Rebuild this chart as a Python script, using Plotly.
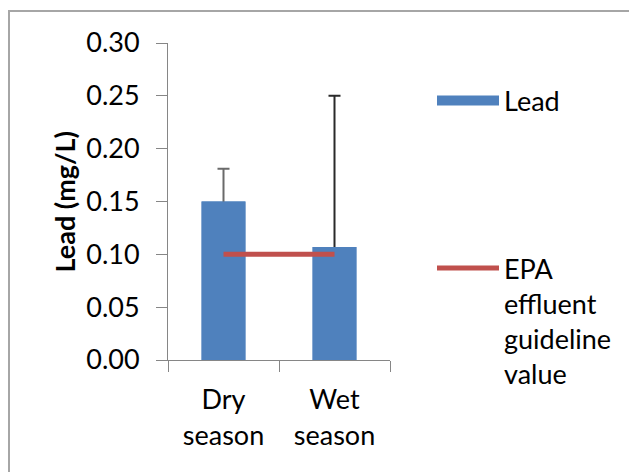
import plotly.graph_objects as go

categories = ["Dry<br>season", "Wet<br>season"]
lead_values = [0.150, 0.107]
lead_err_plus = [0.031, 0.143]
guideline_values = [0.10, 0.10]
y_ticks = [0.00, 0.05, 0.10, 0.15, 0.20, 0.25, 0.30]
y_title = "<b>Lead (mg/L)</b>"

FONT = "Lato, 'Noto Sans', sans-serif"
BLUE = "#4F81BD"
RED = "#C0504D"
AXIS = "#868686"
ERR_COLORS = ["#6a6a6a", "#2a2a2a"]

# figure is placed 8px from the page corner (default body margin)
W, H = 629, 464
L, R, T, B = 160, 247, 35, 112
pw, ph = W - L - R, H - T - B

def px_x(p):
    return (p - L) / pw

def px_y(p):
    return (H - B - p) / ph

fig = go.Figure()
# error bars (plus only) drawn first; their lower end is hidden under the bars
for i, cat in enumerate(categories):
    fig.add_trace(go.Bar(
        x=[cat], y=[lead_values[i]], showlegend=False, hoverinfo="skip",
        marker=dict(color=BLUE, line=dict(width=0)),
        error_y=dict(type="data", array=[lead_err_plus[i]], symmetric=False,
                     arrayminus=[0.02], color=ERR_COLORS[i], thickness=2, width=6),
    ))
fig.add_trace(go.Bar(
    x=categories, y=lead_values, name="Lead", showlegend=False,
    legendgroup="lead",
    marker=dict(color=BLUE, line=dict(width=0)),
))
# legend entry for the bars (wide box like the original)
fig.add_trace(go.Scatter(
    x=[None], y=[None], mode="lines", name="Lead", legendgroup="lead",
    line=dict(color=BLUE, width=19), legend="legend", hoverinfo="skip",
))
fig.add_trace(go.Scatter(
    x=categories, y=guideline_values, mode="lines",
    name="EPA<br>effluent<br>guideline<br>value",
    line=dict(color=RED, width=5),
    legend="legend2",
))

fig.add_shape(type="rect", xref="paper", yref="paper",
              x0=px_x(1), x1=px_x(660), y0=px_y(490), y1=px_y(3),
              line=dict(color="#A6A6A6", width=2), fillcolor="rgba(0,0,0,0)")

# y-axis title
fig.add_annotation(text=y_title, xref="paper", yref="paper",
                   x=px_x(56), y=0.5, xanchor="center", yanchor="middle",
                   textangle=-90, showarrow=False, font=dict(size=27))

fig.update_layout(
    width=W, height=H,
    margin=dict(l=L, r=R, t=T, b=B, autoexpand=False),
    paper_bgcolor="white", plot_bgcolor="white",
    font=dict(family=FONT, size=27, color="black"),
    barmode="overlay",
    bargap=0.605,
    showlegend=True,
    legend=dict(x=px_x(424), y=px_y(93), xanchor="left", yanchor="middle",
                font=dict(size=27), itemwidth=62, bgcolor="rgba(0,0,0,0)"),
    legend2=dict(x=px_x(424), y=px_y(236), xanchor="left", yanchor="top",
                 font=dict(size=27), itemwidth=62, valign="top",
                 bgcolor="rgba(0,0,0,0)"),
    xaxis=dict(
        showline=True, linecolor=AXIS, linewidth=1, automargin=False,
        ticks="outside", ticklen=11, tickcolor=AXIS, tickson="boundaries",
        tickfont=dict(size=27), showgrid=False, zeroline=False,
        ticklabelstandoff=16,
    ),
    yaxis=dict(
        range=[0, 0.30], tickvals=y_ticks, tickformat=".2f", automargin=False,
        showline=True, linecolor=AXIS, linewidth=1,
        ticks="outside", ticklen=11, tickcolor=AXIS,
        tickfont=dict(size=27), showgrid=False, zeroline=False,
        ticklabelstandoff=11,
    ),
)

fig.write_html("out.html")
